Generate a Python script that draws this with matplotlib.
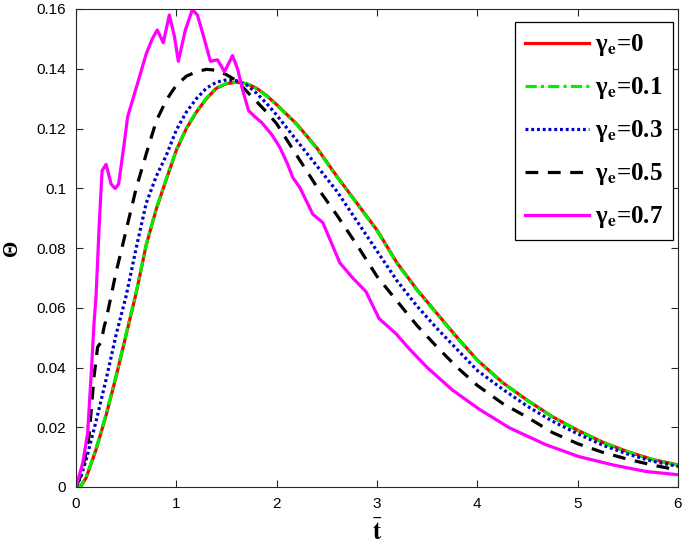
import numpy as np
import matplotlib
matplotlib.use("Agg")
import matplotlib.pyplot as plt

plt.rcParams['mathtext.fontset'] = 'stix'

# gamma_e = 0 and 0.1 (practically on top of each other)
t_a = [0, 0.05, 0.1, 0.2, 0.3, 0.4, 0.5, 0.6, 0.7, 0.8, 0.9, 1.0, 1.1, 1.2, 1.3, 1.4,
       1.5, 1.6, 1.7, 1.8, 1.9, 2.0, 2.2, 2.4, 2.6, 2.8, 3.0, 3.2, 3.4, 3.6, 3.8, 4.0,
       4.25, 4.5, 4.75, 5.0, 5.25, 5.5, 5.75, 6.0]
th_00 = [0, 0.0004, 0.003, 0.0125, 0.024, 0.037, 0.051, 0.065, 0.081, 0.093, 0.103,
         0.1127, 0.120, 0.1255, 0.130, 0.1335, 0.135, 0.1355, 0.135, 0.1335, 0.131,
         0.128, 0.1215, 0.1135, 0.104, 0.095, 0.086, 0.075, 0.066, 0.058, 0.050, 0.0425,
         0.035, 0.029, 0.0235, 0.019, 0.015, 0.0118, 0.0092, 0.0074]
th_01 = [0, 0.0005, 0.0032, 0.0128, 0.0243, 0.0373, 0.0513, 0.0653, 0.0812, 0.0932,
         0.1032, 0.1129, 0.1202, 0.1257, 0.1302, 0.1336, 0.1351, 0.1355, 0.135, 0.1334,
         0.1309, 0.1279, 0.1213, 0.1133, 0.1038, 0.0948, 0.0858, 0.0748, 0.0658, 0.0578,
         0.0498, 0.0424, 0.0349, 0.0289, 0.0234, 0.0189, 0.0149, 0.0117, 0.0091, 0.0073]
th_03 = [0, 0.0035, 0.009, 0.022, 0.036, 0.051, 0.064, 0.080, 0.095, 0.104, 0.111,
         0.1195, 0.1255, 0.130, 0.1335, 0.1355, 0.1363, 0.136, 0.1346, 0.1318, 0.1284,
         0.1245, 0.116, 0.1075, 0.099, 0.089, 0.079, 0.069, 0.0605, 0.053, 0.046, 0.039,
         0.0328, 0.027, 0.022, 0.0178, 0.014, 0.011, 0.0086, 0.0069]

t_b = [0, 0.05, 0.1, 0.13, 0.18, 0.215, 0.25, 0.28, 0.3, 0.4, 0.465, 0.5, 0.6, 0.7, 0.8,
       0.9, 1.0, 1.1, 1.2, 1.3, 1.4, 1.5, 1.6, 1.7, 1.8, 1.9, 2.0, 2.2, 2.4, 2.6, 2.8,
       3.0, 3.2, 3.4, 3.6, 3.8, 4.0, 4.25, 4.5, 4.75, 5.0, 5.25, 5.5, 5.75, 6.0]
th_05 = [0, 0.004, 0.0115, 0.017, 0.037, 0.0468, 0.0485, 0.0536, 0.056, 0.072, 0.081,
         0.086, 0.100, 0.1115, 0.1225, 0.1295, 0.1345, 0.1375, 0.139, 0.1398, 0.1395,
         0.138, 0.136, 0.1325, 0.129, 0.1255, 0.1216, 0.111, 0.1005, 0.091, 0.081,
         0.0705, 0.0622, 0.054, 0.0468, 0.040, 0.034, 0.028, 0.0233, 0.0182, 0.0145,
         0.0116, 0.0093, 0.0073, 0.0057]

t_c = [0, 0.067, 0.116, 0.15, 0.18, 0.2, 0.23, 0.26, 0.3, 0.35, 0.39, 0.425, 0.48, 0.515,
       0.61, 0.70, 0.76, 0.81, 0.87, 0.93, 0.98, 1.02, 1.09, 1.16, 1.21, 1.28, 1.34,
       1.41, 1.48, 1.56, 1.61, 1.66, 1.72, 1.78, 1.85, 1.95, 2.03, 2.11, 2.16, 2.23,
       2.36, 2.46, 2.63, 2.76, 2.89, 3.02, 3.19, 3.32, 3.5, 3.75, 4.02, 4.32, 4.68,
       5.01, 5.35, 5.68, 6.0]
th_07 = [0, 0.008, 0.018, 0.037, 0.055, 0.064, 0.0868, 0.1059, 0.108, 0.1014, 0.0999,
         0.1014, 0.1149, 0.124, 0.1347, 0.145, 0.150, 0.153, 0.1487, 0.158, 0.151,
         0.1425, 0.153, 0.1598, 0.158, 0.1498, 0.1425, 0.143, 0.139, 0.1444, 0.140,
         0.133, 0.126, 0.124, 0.122, 0.118, 0.1138, 0.108, 0.1036, 0.1003, 0.0913,
         0.0885, 0.075, 0.0699, 0.0654, 0.0564, 0.0513, 0.0463, 0.040, 0.0325, 0.026,
         0.0198, 0.0142, 0.0102, 0.0074, 0.0052, 0.0041]

labels = ['γ$_{\\mathbf{e}}$=0', 'γ$_{\\mathbf{e}}$=0.1', 'γ$_{\\mathbf{e}}$=0.3',
          'γ$_{\\mathbf{e}}$=0.5', 'γ$_{\\mathbf{e}}$=0.7']

fig = plt.figure(figsize=(6.83, 5.45), dpi=100)
ax = fig.add_axes([76/683, 58/545, 602/683, 478/545])

lw = 2.3
ax.plot(t_a, th_00, color='#ff0000', lw=lw, label=labels[0])
ax.plot(t_a, th_01, color='#00ee00', lw=lw, ls=(0, (3.5, 1.3, 1, 1.3)), label=labels[1])
ax.plot(t_a, th_03, color='#0000cc', lw=lw, ls=(0, (0.9, 0.9)), label=labels[2])
ax.plot(t_b, th_05, color='black', lw=lw, ls=(0, (4, 3)), label=labels[3])
ax.plot(t_c, th_07, color='#ff00ff', lw=lw, label=labels[4])

ax.set_xlim(0, 6)
ax.set_ylim(0, 0.16)
ax.set_xticks(range(7))
ax.set_yticks(np.arange(0, 0.161, 0.02))
ax.set_yticklabels(['0', '0.02', '0.04', '0.06', '0.08', '0.1', '0.12', '0.14', '0.16'])

for s in ax.spines.values():
    s.set_color('#262626')
    s.set_linewidth(0.8)
ax.tick_params(direction='in', top=True, right=True, length=5, width=0.8,
               color='#262626', labelsize=11, pad=7)
for lab in ax.get_xticklabels() + ax.get_yticklabels():
    lab.set_family('Liberation Sans')

ax.set_xlabel(r'$\bar{\mathbf{t}}$', fontsize=18)
ax.xaxis.set_label_coords(0.5, -0.068)
ax.set_ylabel('Θ', family='Liberation Serif', weight='bold', fontsize=15)
ax.yaxis.set_label_coords(-0.09, 0.5)

leg = ax.legend(loc='upper right', bbox_to_anchor=(0.992, 0.972), borderaxespad=0,
                prop={'family': 'Liberation Serif', 'weight': 'bold', 'size': 18},
                handlelength=2.55, handletextpad=0.25, labelspacing=0.68,
                fancybox=False, framealpha=1, edgecolor='black', borderpad=0.4)
leg.get_frame().set_linewidth(0.9)

fig.savefig('out.png', dpi=100)
